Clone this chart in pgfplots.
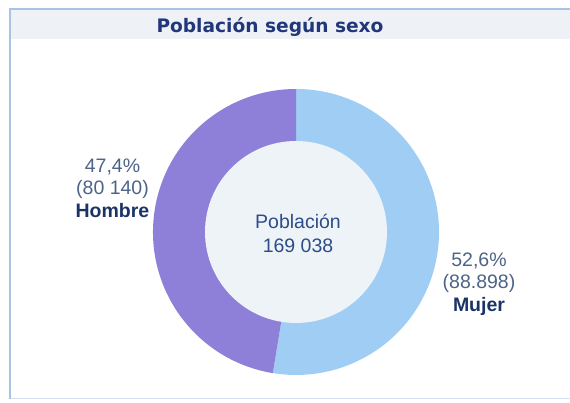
\documentclass[border=0pt]{standalone}
\usepackage{pgfplots}
\pgfplotsset{compat=1.18}
\usepackage{pgfplotstable}
\usepackage{fontspec}
\setmainfont{Liberation Sans}
\newfontfamily\titlefont{DejaVu Sans}
\definecolor{hombre}{HTML}{8E7FD8}
\definecolor{mujer}{HTML}{9FCDF4}
\definecolor{innerc}{HTML}{EEF3F8}
\definecolor{navy}{HTML}{1A3466}
\definecolor{midnavy}{HTML}{2D4C88}
\definecolor{grayblue}{HTML}{4D6488}
\definecolor{titlec}{HTML}{22367A}
\definecolor{framec}{HTML}{A8C3E3}
\definecolor{bandc}{HTML}{EEF2F7}
\pgfplotstableread{
sexo valor
Hombre 80140
Mujer 88898
}\datos
\begin{document}
\begin{tikzpicture}[x=1pt,y=1pt]
\useasboundingbox (0,0) rectangle (570,403);
\fill[white] (0,0) rectangle (570,403);
\fill[bandc] (10,364) rectangle (570,394);
\draw[framec!50, line width=1pt] (10,4) -- (570,4);
\draw[framec, line width=1.5pt] (10,4) -- (10,394) -- (570,394);
\node[font=\titlefont\bfseries\fontsize{18.6}{20}\selectfont, text=titlec] at (270,376) {Población según sexo};
\pgfplotstablegetelem{0}{valor}\of\datos \let\vh\pgfplotsretval
\pgfplotstablegetelem{1}{valor}\of\datos \let\vm\pgfplotsretval
\edef\endm{\fpeval{90-360*\vm/(\vh+\vm)}}
\begin{axis}[at={(296pt,171pt)}, anchor=center, width=286pt, height=286pt, scale only axis,
  xmin=-1, xmax=1, ymin=-1, ymax=1, hide axis]
\addplot[draw=none, forget plot] coordinates {(0,0)};
\coordinate (c) at (axis cs:0,0);
\end{axis}
\fill[mujer] (c) -- ++(90:143pt) arc[start angle=90, end angle=\endm, radius=143pt] -- cycle;
\fill[hombre] (c) -- ++(\endm:143pt) arc[start angle=\endm, end angle=-270, radius=143pt] -- cycle;
\fill[innerc] (c) circle[radius=91pt];
\node[align=center, font=\fontsize{19.5}{24}\selectfont, text=midnavy] at (298,170) {Población\\169 038};
\node[align=center, font=\fontsize{19.5}{22.5}\selectfont, text=grayblue] at (112.5,215) {47,4\%\\(80 140)\\\textcolor{navy}{\bfseries Hombre}};
\node[align=center, font=\fontsize{19.5}{22.5}\selectfont, text=grayblue] at (479,119) {52,6\%\\(88.898)\\\textcolor{navy}{\bfseries Mujer}};
\end{tikzpicture}
\end{document}
